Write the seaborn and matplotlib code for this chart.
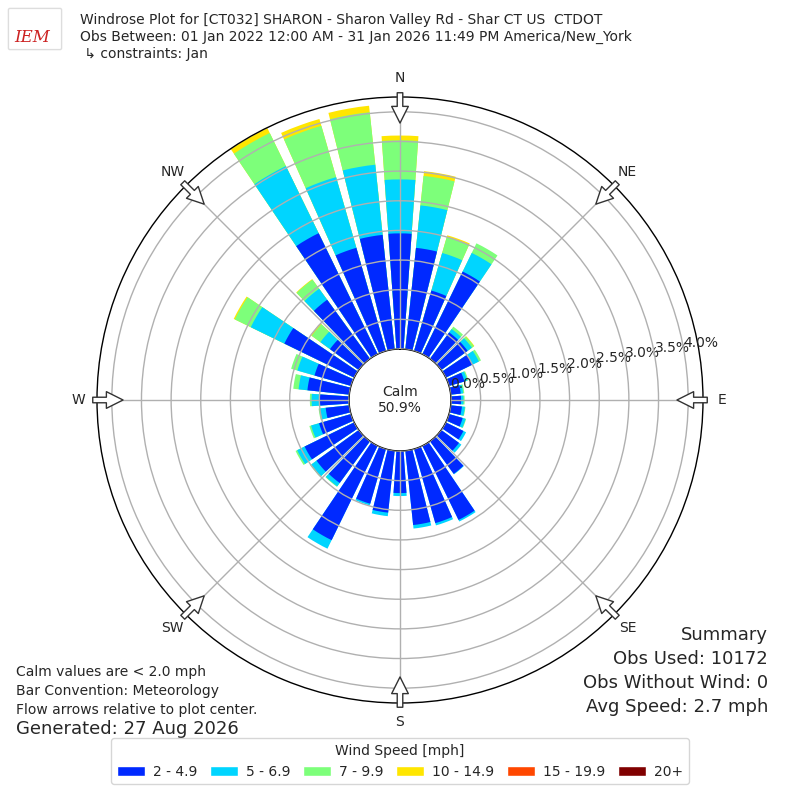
import numpy as np
import pandas as pd
import seaborn as sns
import matplotlib.pyplot as plt
from matplotlib.patches import Patch, FancyBboxPatch

# wind direction bins (deg, meteorological: where the wind blows from)
directions = [0, 10, 20, 30, 40, 50, 60, 70, 80, 90, 100, 110,
              120, 130, 140, 150, 160, 170, 180, 190, 200, 210, 220, 230,
              240, 250, 260, 270, 280, 290, 300, 310, 320, 330, 340, 350]
speed_bins = ["2 - 4.9", "5 - 6.9", "7 - 9.9", "10 - 14.9", "15 - 19.9", "20+"]

# frequency [%] of each speed bin per direction
freq_2_5 = [1.95, 1.72, 1.06, 1.55, 0.55, 0.55, 0.50, 0.27, 0.17, 0.17, 0.19, 0.24,
            0.33, 0.37, 0.68, 1.39, 1.30, 1.26, 0.71, 1.05, 0.96, 1.77, 0.87, 0.88,
            0.93, 0.56, 0.40, 0.49, 0.71, 0.64, 1.31, 0.60, 1.23, 2.27, 1.81, 1.94]
freq_5_7 = [0.91, 0.72, 0.66, 0.35, 0.07, 0.09, 0.12, 0.05, 0.04, 0.04, 0.05, 0.05,
            0.05, 0.05, 0.01, 0.03, 0.04, 0.06, 0.05, 0.06, 0.03, 0.16, 0.07, 0.11,
            0.14, 0.14, 0.10, 0.14, 0.15, 0.30, 0.63, 0.20, 0.23, 1.26, 1.24, 1.19]
freq_7_10 = [0.66, 0.50, 0.28, 0.18, 0.05, 0.04, 0.04, 0.02, 0.02, 0.02, 0.01, 0.01,
             0.00, 0.00, 0.00, 0.00, 0.00, 0.00, 0.00, 0.00, 0.00, 0.00, 0.01, 0.02,
             0.03, 0.03, 0.02, 0.03, 0.09, 0.11, 0.30, 0.18, 0.19, 0.62, 0.90, 0.89]
freq_10_15 = [0.08, 0.08, 0.03, 0.00, 0.00, 0.01, 0.00, 0.00, 0.00, 0.00, 0.00, 0.00,
              0.00, 0.00, 0.00, 0.00, 0.00, 0.00, 0.00, 0.00, 0.00, 0.00, 0.00, 0.00,
              0.00, 0.00, 0.00, 0.00, 0.00, 0.00, 0.02, 0.02, 0.01, 0.09, 0.12, 0.11]
freq_15_20 = [0.0] * 36
freq_20_up = [0.0] * 36

calm_pct = 50.9
compass = ["N", "NE", "E", "SE", "S", "SW", "W", "NW"]
compass_deg = [0, 45, 90, 135, 180, 225, 270, 315]
ring_ticks = [0.0, 0.5, 1.0, 1.5, 2.0, 2.5, 3.0, 3.5, 4.0]

title_lines = [
    "Windrose Plot for [CT032] SHARON - Sharon Valley Rd - Shar CT US  CTDOT",
    "Obs Between: 01 Jan 2022 12:00 AM - 31 Jan 2026 11:49 PM America/New_York",
    " \u21b3 constraints: Jan",
]
notes = ["Calm values are < 2.0 mph", "Bar Convention: Meteorology",
         "Flow arrows relative to plot center."]
generated = "Generated: 27 Aug 2026"
summary = ["Summary", "Obs Used: 10172", "Obs Without Wind: 0", "Avg Speed: 2.7 mph"]

sns.set_style("white")
plt.rcParams["font.family"] = ["DejaVu Sans"]

colors = plt.get_cmap("jet")(np.linspace(0, 1, 7))[1:]
palette = dict(zip(speed_bins, colors))

freqs = np.array([freq_2_5, freq_5_7, freq_7_10, freq_10_15, freq_15_20, freq_20_up])
cum = freqs.cumsum(axis=0)
theta = np.deg2rad(directions)
df = pd.DataFrame({
    "theta": np.tile(theta, len(speed_bins)),
    "freq": freqs.ravel(),
    "cum": cum.ravel(),
    "bin": np.repeat(speed_bins, len(directions)),
})
# empty segments would only leave hairline edges under the visible ones
df = df[df["freq"] > 0]

fig = plt.figure(figsize=(8, 8), dpi=100)
ax = fig.add_axes([0.12125, 0.12125, 0.7575, 0.7575], projection="polar")
ax.set_theta_zero_location("N")
ax.set_theta_direction(-1)

# stacked look: draw cumulative totals, biggest bin first, smallest on top
sns.barplot(data=df, x="theta", y="cum", hue="bin", hue_order=speed_bins[::-1],
            palette=palette, native_scale=True, dodge=False, width=0.8,
            saturation=1, errorbar=None, linewidth=0, edgecolor="none",
            legend=False, ax=ax)
ax.set_xlabel("")
ax.set_ylabel("")

rmax = cum[-1].max() + 0.01
ax.set_rorigin(-0.86)
ax.set_ylim(0, rmax)
ax.set_yticks(ring_ticks)
ax.set_yticklabels([f"{t:.1f}%" for t in ring_ticks], fontsize=10)
ax.set_rlabel_position(80)
ax.set_xticks(np.deg2rad(compass_deg))
ax.set_xticklabels(compass, fontsize=10)
ax.tick_params(axis="x", pad=3)
ax.grid(True, color="#b0b0b0", linewidth=1)
ax.set_axisbelow(False)
ax.spines["polar"].set_color("black")
ax.spines["polar"].set_linewidth(1)
ax.spines["inner"].set_visible(True)
ax.spines["inner"].set_color("black")
ax.spines["inner"].set_linewidth(1)

ax.text(0.5, 0.5, f"Calm\n{calm_pct}%", transform=ax.transAxes,
        ha="center", va="center", fontsize=10)

# flow arrows on the rim, pointing to the center
for ang in compass_deg:
    a = np.deg2rad(ang)
    head = (0.5 + 0.457 * np.sin(a), 0.5 + 0.457 * np.cos(a))
    tail = (0.5 + 0.507 * np.sin(a), 0.5 + 0.507 * np.cos(a))
    ax.annotate("", xy=head, xytext=tail, xycoords="axes fraction",
                textcoords="axes fraction", annotation_clip=False,
                arrowprops=dict(arrowstyle="simple,head_length=1.2,head_width=1.2,tail_width=0.4",
                                fc="white", ec="#333333", lw=1, mutation_scale=10,
                                shrinkA=0, shrinkB=0))

for i, line in enumerate(title_lines):
    fig.text(80 / 800, 1 - (20 + 17 * i) / 800, line, fontsize=10, va="center")

# little IEM logo
fig.patches.append(FancyBboxPatch((10 / 800, 1 - 48 / 800), 50 / 800, 38 / 800,
                                  boxstyle="round,pad=0.002", transform=fig.transFigure,
                                  fc="none", ec="#dddddd", lw=1))
fig.text(32 / 800, 1 - 38 / 800, "IEM", color="#cc2222", fontsize=12,
         fontstyle="italic", family="DejaVu Serif", ha="center", va="center")

for i, line in enumerate(notes):
    fig.text(16 / 800, 1 - (672 + 19 * i) / 800, line, fontsize=10, va="center")
fig.text(16 / 800, 1 - 729 / 800, generated, fontsize=13, va="center")

for i, line in enumerate(summary):
    fig.text(768 / 800, 1 - (635 + 24 * i) / 800, line, fontsize=13, ha="right", va="center")

handles = [Patch(facecolor=palette[b], label=b) for b in speed_bins]
fig.legend(handles=handles, ncol=6, loc="lower center", bbox_to_anchor=(0.5, 0.011),
           title="Wind Speed [mph]", fontsize=10, title_fontsize=10, frameon=True,
           handlelength=2, handletextpad=0.6, columnspacing=0.9)

fig.savefig("out.png", dpi=100)
